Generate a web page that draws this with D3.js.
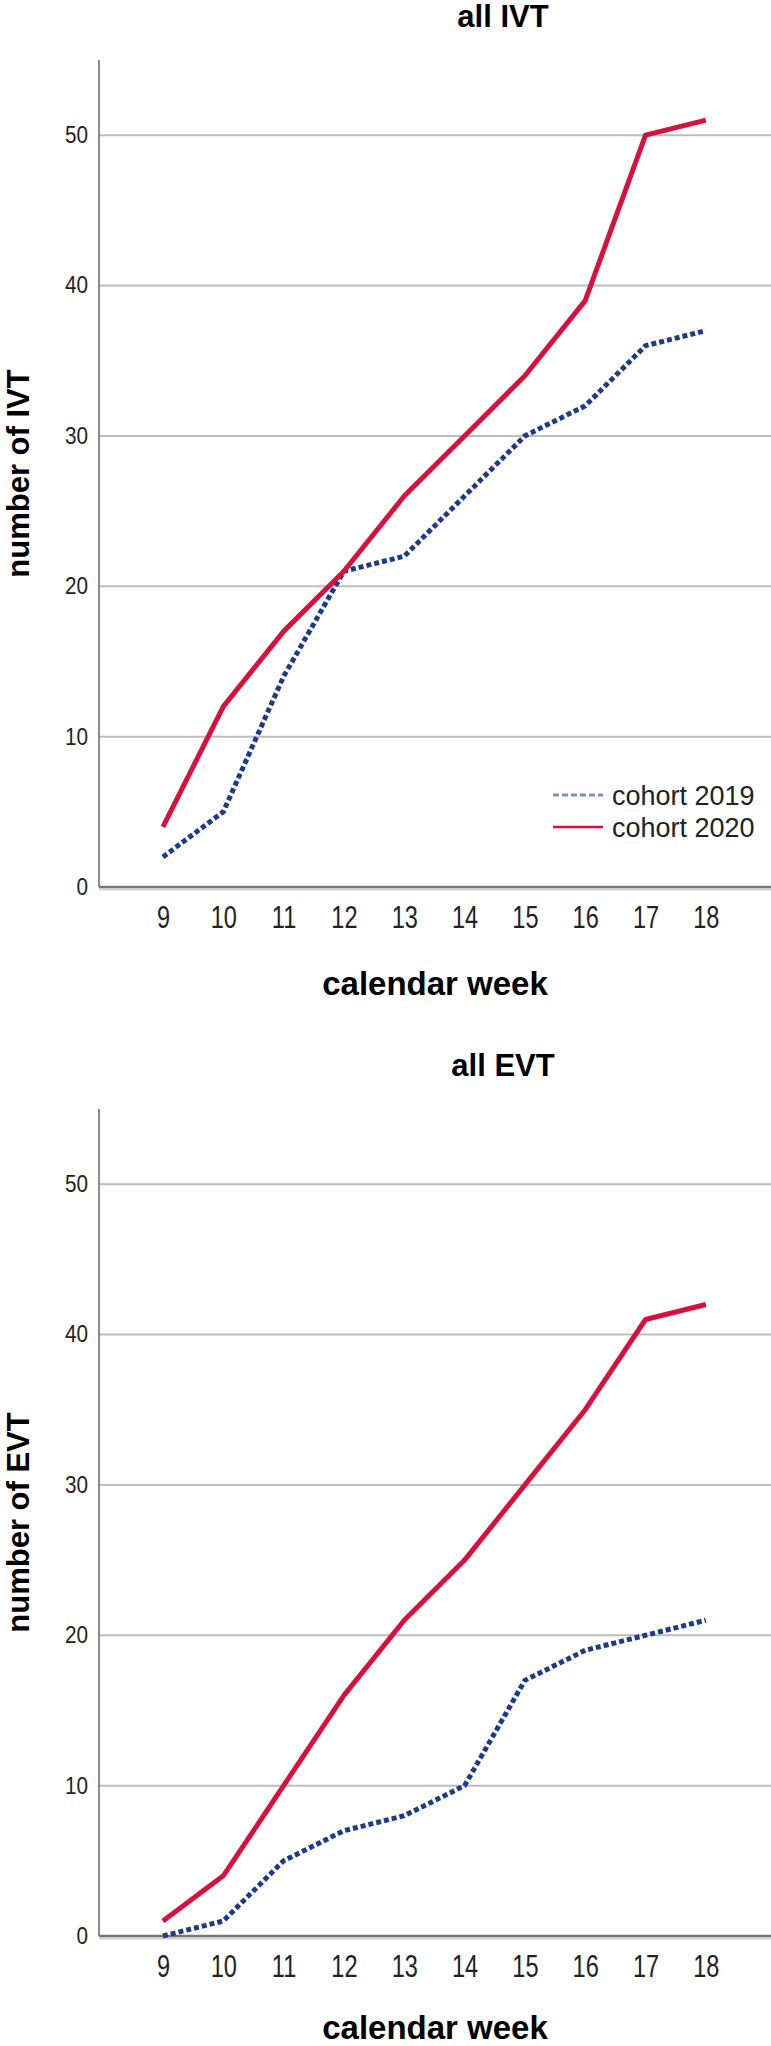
<!DOCTYPE html>
<html>
<head>
<meta charset="utf-8">
<script src="https://cdnjs.cloudflare.com/ajax/libs/d3/7.8.5/d3.min.js"></script>
<style>
  body { margin: 0; background: #fff; }
  svg { display: block; font-family: "Liberation Sans", Arial, sans-serif; }
</style>
</head>
<body>
<script>
const weeks = [9, 10, 11, 12, 13, 14, 15, 16, 17, 18];
const ivt2019 = [2, 5, 14, 21, 22, 26, 30, 32, 36, 37];
const ivt2020 = [4, 12, 17, 21, 26, 30, 34, 39, 50, 51];
const evt2019 = [0, 1, 5, 7, 8, 10, 17, 19, 20, 21];
const evt2020 = [1, 4, 10, 16, 21, 25, 30, 35, 41, 42];
const yTicks = [0, 10, 20, 30, 40, 50];
const seriesNames = ["cohort 2019", "cohort 2020"];

const width = 771, height = 2046;
const panelShift = 1049;
const plotLeft = 99, plotRight = 771, plotTop = 60, plotBottom = 887;

const blue = "#1b3a8c", red = "#d9103e";

const svg = d3.select("body").append("svg")
    .attr("width", width)
    .attr("height", height);

const x = d3.scaleLinear()
    .domain([7.94, 19.08])
    .range([plotLeft, plotRight]);

function drawPanel(dy, title, yLabel, s2019, s2020, legend){
    const g = svg.append("g").attr("transform", `translate(0 ${dy})`);

    const y = d3.scaleLinear()
        .domain([0, 55])
        .range([plotBottom, plotTop]);

    // gridlines
    g.selectAll(".grid")
        .data(yTicks.filter(d => d > 0))
        .enter()
        .append("line")
        .attr("class", "grid")
        .attr("x1", plotLeft).attr("x2", plotRight)
        .attr("y1", d => y(d)).attr("y2", d => y(d))
        .attr("stroke", "#bdbdbd")
        .attr("stroke-width", 2);

    // y axis labels
    const ga = g.append("g")
        .attr("transform", `translate(${plotLeft - 11} 0)`)
        .call(d3.axisLeft(y).tickValues(yTicks).tickSize(0).tickPadding(0));
    ga.select(".domain").remove();
    ga.selectAll("text")
        .attr("font-size", 23)
        .attr("font-family", "Liberation Sans, Arial, sans-serif")
        .attr("fill", "#222")
        .attr("transform", "scale(0.9,1)");

    // x axis labels
    const gx = g.append("g")
        .attr("transform", `translate(0 ${plotBottom})`)
        .call(d3.axisBottom(x).tickValues(weeks).tickSize(0).tickPadding(19));
    gx.select(".domain").remove();
    gx.selectAll("text")
        .attr("font-size", 31)
        .attr("font-family", "Liberation Sans, Arial, sans-serif")
        .attr("fill", "#222")
        .attr("transform", "scale(0.76,1)");

    // axis lines
    g.append("line")
        .attr("x1", plotLeft).attr("x2", plotLeft)
        .attr("y1", y.range()[1]).attr("y2", y(0))
        .attr("stroke", "#666")
        .attr("stroke-width", 1.5);
    g.append("line")
        .attr("x1", plotLeft).attr("x2", plotRight)
        .attr("y1", y(0) + 2.5).attr("y2", y(0) + 2.5)
        .attr("stroke", "#d0d0d0")
        .attr("stroke-width", 2);
    g.append("line")
        .attr("x1", plotLeft).attr("x2", plotRight)
        .attr("y1", y(0)).attr("y2", y(0))
        .attr("stroke", "#777")
        .attr("stroke-width", 2.5);

    const line = d3.line()
        .x((d, i) => x(weeks[i]))
        .y(d => y(d));

    g.append("path")
        .datum(s2019)
        .attr("d", line)
        .attr("fill", "none")
        .attr("stroke", blue)
        .attr("stroke-width", 5)
        .attr("stroke-dasharray", "5,3");

    g.append("path")
        .datum(s2020)
        .attr("d", line)
        .attr("fill", "none")
        .attr("stroke", red)
        .attr("stroke-width", 5)
        .attr("stroke-linejoin", "round");

    // title
    g.append("text")
        .attr("x", 503)
        .attr("y", 27)
        .attr("text-anchor", "middle")
        .attr("font-size", 31)
        .attr("font-weight", "bold")
        .text(title);

    // bottom panel runs into the page edge, keep its label inside
    g.append("text")
        .attr("x", (plotLeft + plotRight) / 2)
        .attr("y", Math.min(995, height - dy - 7))
        .attr("text-anchor", "middle")
        .attr("font-size", 33)
        .attr("font-weight", "bold")
        .text("calendar week");

    g.append("text")
        .attr("transform", `translate(29 ${(plotTop + plotBottom) / 2}) rotate(-90)`)
        .attr("text-anchor", "middle")
        .attr("font-size", 31)
        .attr("font-weight", "bold")
        .text(yLabel);

    if (legend){
        const lg = g.append("g");
        const rows = lg.selectAll("g")
            .data(seriesNames)
            .enter()
            .append("g")
            .attr("transform", (d, i) => `translate(553 ${795 + i * 32})`);
        rows.append("line")
            .attr("x1", 0).attr("x2", 50)
            .attr("y1", 0).attr("y2", 0)
            .attr("stroke", (d, i) => i === 0 ? "#7b8ec8" : red)
            .attr("stroke-width", (d, i) => i === 0 ? 3 : 2.5)
            .attr("stroke-dasharray", (d, i) => i === 0 ? "6,3" : null);
        rows.append("text")
            .attr("x", 59)
            .attr("y", 10)
            .attr("font-size", 27)
            .attr("fill", "#222")
            .text(d => d);
    }
}

drawPanel(0, "all IVT", "number of IVT", ivt2019, ivt2020, true);
drawPanel(panelShift, "all EVT", "number of EVT", evt2019, evt2020, false);
</script>
</body>
</html>
